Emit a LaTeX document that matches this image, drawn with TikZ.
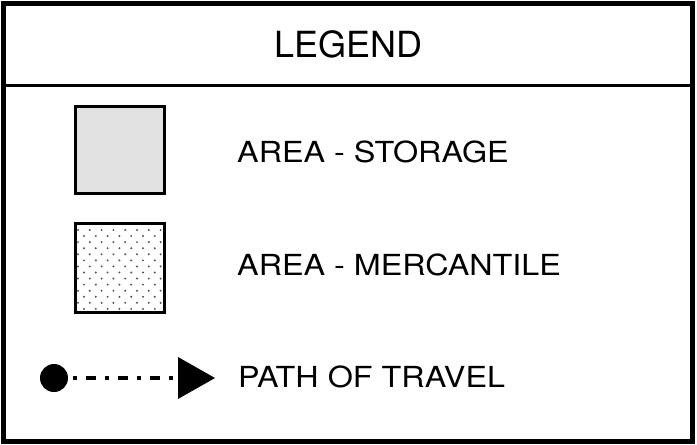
\documentclass[tikz,border=0pt]{standalone}
\usepackage{fontspec}
\setmainfont{TeX Gyre Heros}
\usepackage{graphicx}
\tikzset{
  legtext/.style={anchor=base west, inner sep=0pt, font=\fontsize{29}{31}\selectfont},
  swatch/.style={draw=black, line width=3pt, minimum width=89pt, minimum height=87pt, inner sep=0pt},
}
\definecolor{storagegray}{HTML}{E1E1E1}
\definecolor{dotgray}{HTML}{555555}
\begin{document}
\begin{tikzpicture}[x=1pt,y=-1pt]
\useasboundingbox (0,0) rectangle (697,445);
\fill[white] (0,0) rectangle (697,445);
% frame
\draw[line width=4.5pt] (3.5,3.5) rectangle (692.5,441.5);
\draw[line width=2.5pt] (3.5,85.5) -- (692.5,85.5);
\node[anchor=base, inner sep=0pt, font=\fontsize{36}{40}\selectfont] (title) at (348.5,57) {LEGEND};
% storage swatch
\node[swatch, fill=storagegray] (storage) at (120,149.5) {};
\node[legtext] (storagetxt) at (237,162) {\scalebox{1.115}[1]{AREA - STORAGE}};
% mercantile swatch
\node[swatch, minimum height=89pt] (merc) at (120,267.5) {};
\begin{scope}
\clip (76,224.5) rectangle (164,311);
\foreach \j in {0,...,14} {
  \pgfmathsetmacro{\yy}{230+6.07*\j}
  \pgfmathsetmacro{\xo}{mod(\j,2)*6}
  \foreach \i in {0,...,8} {
    \fill[dotgray] ({78+\xo+11.8*\i},\yy) circle (1.1);
  }
}
\end{scope}
\node[legtext] (merctxt) at (237,275) {\scalebox{1.115}[1]{AREA - MERCANTILE}};
% path of travel
\node[circle, fill=black, minimum size=28pt, inner sep=0pt] (start) at (54,378) {};
\coordinate (tri) at (176,378);
\fill (178,357) -- (215,378) -- (178,399) -- cycle;
\draw[line width=4pt, dash pattern=on 3.5pt off 9.5pt on 10pt off 9pt, shorten <=5pt] (start.east) -- (tri);
\node[legtext] (pathtxt) at (238,387) {\scalebox{1.115}[1]{PATH OF TRAVEL}};
\end{tikzpicture}
\end{document}
